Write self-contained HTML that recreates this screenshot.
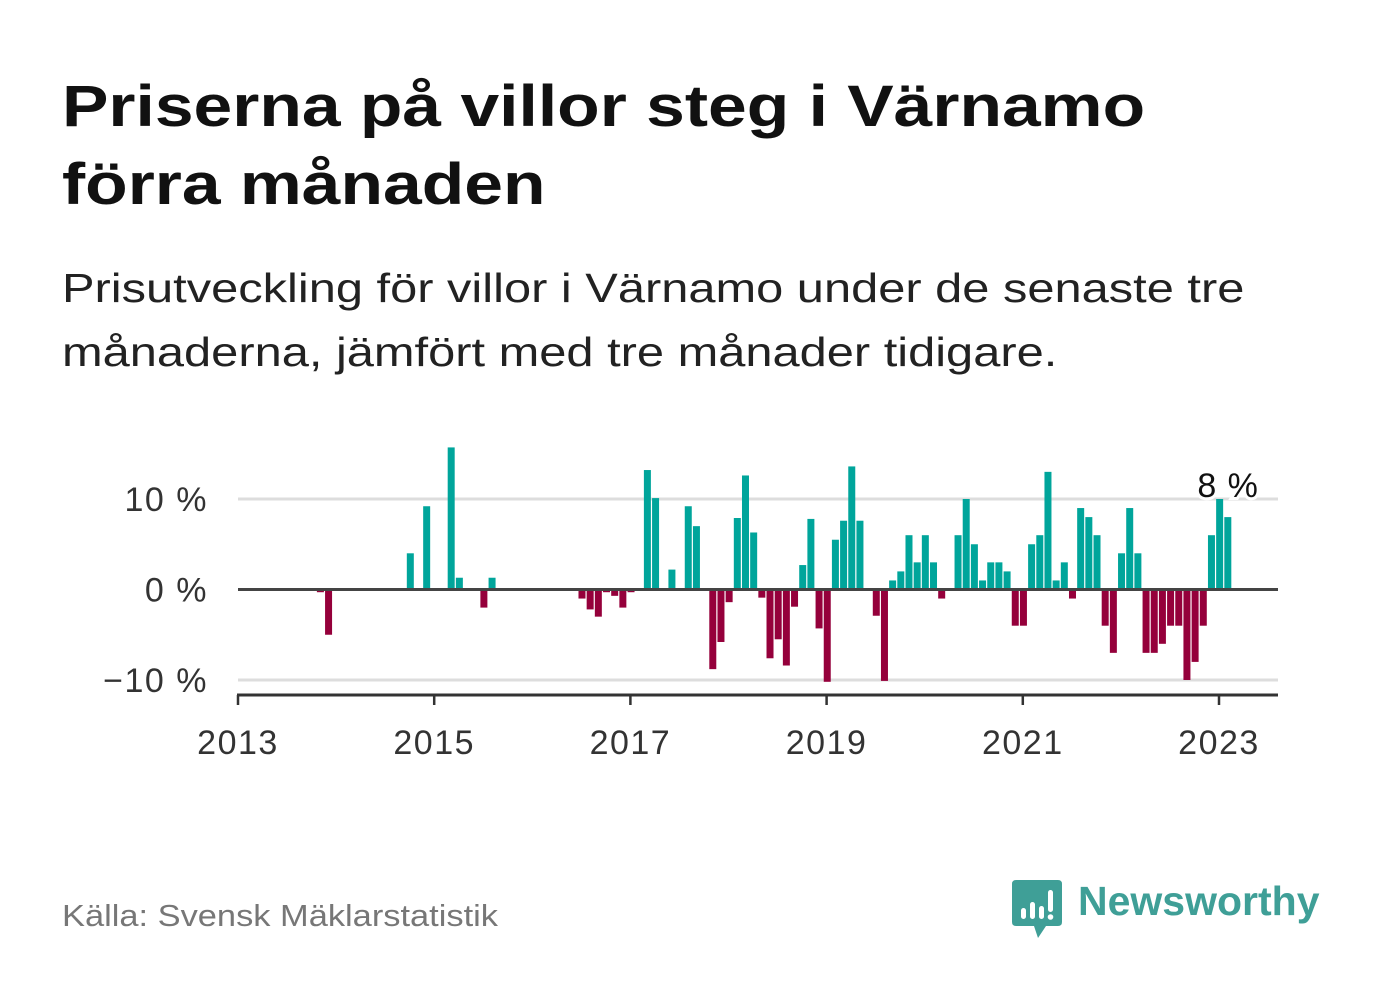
<!DOCTYPE html>
<html><head><meta charset="utf-8">
<style>
body{margin:0;background:#fff;}
#wrap{position:relative;width:1382px;height:999px;overflow:hidden;font-family:"Liberation Sans",sans-serif;}
.t{position:absolute;left:62px;margin:0;color:#111;transform-origin:0 0;white-space:nowrap;}
</style></head>
<body>
<div id="wrap">
<div class="t" style="top:68px;font-size:58px;font-weight:bold;line-height:78px;transform:scaleX(1.2);">Priserna på villor steg i Värnamo<br>förra månaden</div>
<div class="t" style="top:256px;font-size:41px;line-height:64px;color:#222;transform:scaleX(1.19);">Prisutveckling för villor i Värnamo under de senaste tre<br>månaderna, jämfört med tre månader tidigare.</div>
<svg id="chart" width="1382" height="999" style="position:absolute;left:0;top:0;"></svg>
<div class="t" style="top:898px;font-size:31px;color:#777;transform:scaleX(1.11);">Källa: Svensk Mäklarstatistik</div>
<svg style="position:absolute;left:1012px;top:880px;" width="52" height="60" viewBox="0 0 52 60">
<path d="M4 0H46Q50 0 50 4V42Q50 46 46 46H34L26 58L22 46H4Q0 46 0 42V4Q0 0 4 0Z" fill="#3f9f97"/>
<rect x="9" y="28" width="5" height="11" rx="2.5" fill="#fff"/>
<rect x="18" y="22" width="5" height="17" rx="2.5" fill="#fff"/>
<rect x="27" y="26" width="5" height="13" rx="2.5" fill="#fff"/>
<rect x="36" y="10" width="5" height="22" rx="2.5" fill="#fff"/>
<circle cx="38.5" cy="37" r="2.8" fill="#fff"/>
</svg>
<div style="position:absolute;left:1078px;top:878px;font-size:41px;font-weight:bold;color:#3f9f97;">Newsworthy</div>
</div>
<script>
const startYear = 2013;
const values = [0,0,0,0,0,0,0,0,0,-0.3,-5,0,0,0,0,0,0,0,0,0,
4,0,9.2,0,0,15.7,1.3,0,0,-2,1.3,0,0,0,0,0,0,0,0,0,
0,-1,-2.2,-3,-0.3,-0.7,-2,-0.3,0,13.2,10.1,0,2.2,0,9.2,7,0,-8.8,-5.8,-1.4,
7.9,12.6,6.3,-0.9,-7.6,-5.5,-8.4,-1.9,2.7,7.8,-4.3,-10.2,5.5,7.6,13.6,7.6,0,-2.9,-10.1,1,
2,6,3,6,3,-1,0,6,10,5,1,3,3,2,-4,-4,5,6,13,1,
3,-1,9,8,6,-4,-7,4,9,4,-7,-7,-6,-4,-4,-10,-8,-4,6,10,8];
const yTicks = [10,0,-10];
const yTickLabels = ["10 %","0 %","\u221210 %"];
const xTicks = [2013,2015,2017,2019,2021,2023];
const lastLabel = "8 %";

const NS="http://www.w3.org/2000/svg";
const svg=document.getElementById('chart');
const X0=238,X1=1278,MW=8.175;
const xMonth=i=>X0+i*MW;
const xYear=y=>X0+(y-startYear)*12*MW;
const y=v=>589.5-v*9.05;
function mk(t,a){const e=document.createElementNS(NS,t);for(const k in a)e.setAttribute(k,a[k]);svg.appendChild(e);return e;}

yTicks.forEach((v,i)=>{
  if(v!==0){const g=mk('line',{x1:X0,x2:X1,y1:y(v),y2:y(v),stroke:'#ddd','stroke-width':3});
  
  }
  const t=mk('text',{x:208,y:y(v)+12,'text-anchor':'end','font-size':34,'letter-spacing':1.5,fill:'#333','font-family':'Liberation Sans, sans-serif'});
  t.textContent=yTickLabels[i];
  
  
});
values.forEach((v,i)=>{
  if(v===0)return;
  const x=xMonth(i+0.65);
  const r=mk('rect',{x:x,y:Math.min(y(v),y(0)),width:7,height:Math.abs(y(v)-y(0)),fill:v>0?'#00a59b':'#95003b'});
  
  
});
const z=mk('line',{x1:X0,x2:X1,y1:y(0),y2:y(0),stroke:'#444','stroke-width':3});


const ax=mk('line',{x1:X0-1,x2:X1,y1:695,y2:695,stroke:'#333','stroke-width':3});


xTicks.forEach(yr=>{
  const x=xYear(yr);
  const tk=mk('line',{x1:x,x2:x,y1:695,y2:705,stroke:'#333','stroke-width':2.5});
  
  
  const t=mk('text',{x:x,y:754,'text-anchor':'middle','font-size':34,'letter-spacing':1.5,fill:'#333','font-family':'Liberation Sans, sans-serif'});
  t.textContent=yr;
  
  
});
const li=values.length-2;
const lt=mk('text',{x:xMonth(li+0.65)+12,y:y(values[li])-2,'text-anchor':'middle','font-size':34,'letter-spacing':1,fill:'#111',stroke:'#fff','stroke-width':6,'paint-order':'stroke','font-family':'Liberation Sans, sans-serif'});
lt.textContent=lastLabel;


</script>
</body></html>
